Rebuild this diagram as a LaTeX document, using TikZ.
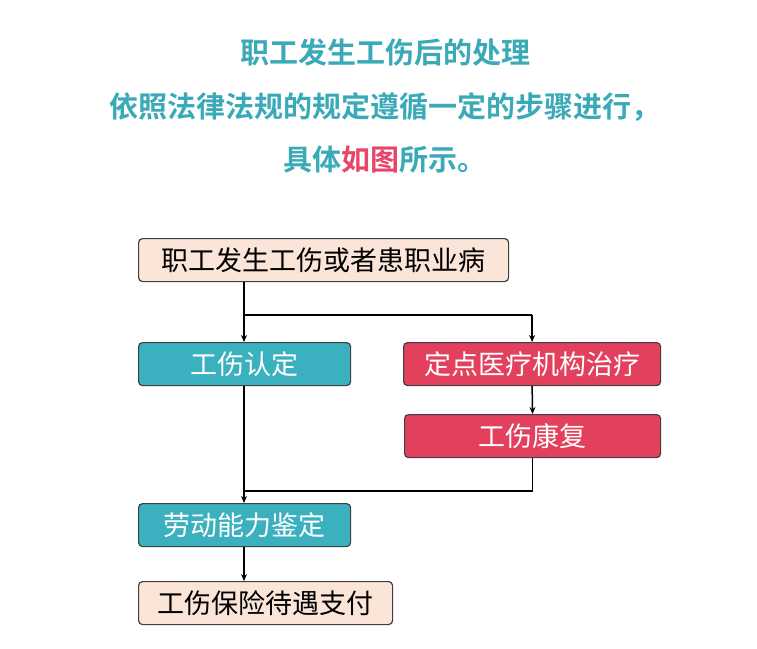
\documentclass[tikz,border=0pt]{standalone}
\usepackage{fontspec}
\setmainfont{Noto Sans CJK SC}
\newfontfamily\cjkb{Noto Sans CJK SC Bold}
\usetikzlibrary{arrows.meta}
\definecolor{tealc}{HTML}{3BB1C0}
\definecolor{redc}{HTML}{E2405C}
\definecolor{peach}{HTML}{FBE4D8}
\definecolor{titc}{HTML}{3AAAB8}
\definecolor{pinkc}{HTML}{E8456A}
\tikzset{
 box/.style={draw=black!75, line width=1.2pt, rounded corners=4pt, anchor=north west, inner sep=0pt, font=\fontsize{27}{29}\selectfont},
 lbox/.style={box, fill=peach, text=black},
 tbox/.style={box, fill=tealc, text=white},
 rbox/.style={box, fill=redc, text=white},
 arr/.style={line width=1.5pt, -{Stealth[length=7pt,width=6pt]}},
 ln/.style={line width=1.5pt},
 tit/.style={font=\cjkb\fontsize{29}{31}\selectfont, text=titc}
}
\begin{document}
\begin{tikzpicture}[x=1pt,y=-1pt]
\useasboundingbox (0,0) rectangle (757,648);
\node[tit] (t1) at (385,52) {职工发生工伤后的处理};
\node[tit] (t2) at (385,107) {依照法律法规的规定遵循一定的步骤进行，};
\node[tit] (t3) at (385,160) {具体\textcolor{pinkc}{如图}所示。};
\node[lbox, minimum width=370pt, minimum height=43pt] (a) at (138,238) {职工发生工伤或者患职业病};
\node[tbox, minimum width=212pt, minimum height=43pt] (b) at (138,342) {工伤认定};
\node[rbox, minimum width=257pt, minimum height=43pt] (c) at (403,342) {定点医疗机构治疗};
\node[rbox, minimum width=256pt, minimum height=43pt] (d) at (404,414) {工伤康复};
\node[tbox, minimum width=212pt, minimum height=43pt] (e) at (138,503) {劳动能力鉴定};
\node[lbox, minimum width=254pt, minimum height=43pt] (f) at (138,581) {工伤保险待遇支付};
\coordinate (sp) at (244,315);
\coordinate (jn) at (244,491);
\draw[arr] (a.south -| sp) -- (b.north -| sp);
\draw[ln] (sp) -- (sp -| c.north) coordinate (cr);
\draw[arr] (cr) -- (c.north);
\draw[arr] (c.south) -- (d.north);
\draw[ln] (d.south) |- (jn);
\draw[arr] (b.south -| sp) -- (e.north -| sp);
\draw[arr] (e.south -| sp) -- (f.north -| sp);
\end{tikzpicture}
\end{document}
